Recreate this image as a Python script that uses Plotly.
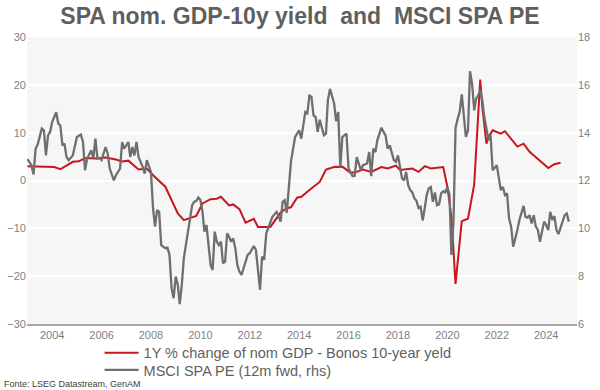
import plotly.graph_objects as go

# ---------------- data ----------------
red_dates = ["2003-01","2004-02","2004-05","2004-11","2005-02","2005-05","2005-10","2006-03","2006-08","2006-11",
             "2007-02","2007-07","2007-11","2008-02","2008-08","2009-02","2009-05","2009-11","2010-02","2010-06",
             "2010-09","2010-11","2011-03","2011-05","2011-08","2011-11","2012-03","2012-05","2012-11","2013-04",
             "2013-07","2013-09","2013-12","2014-02","2014-06","2014-11","2015-02","2015-06","2015-10","2016-02",
             "2016-05","2016-08","2016-12","2017-05","2017-08","2017-12","2018-02","2018-08","2018-11","2019-02",
             "2019-05","2019-09","2019-11","2020-01","2020-03","2020-05","2020-08","2020-11","2021-02","2021-05",
             "2021-06","2021-08","2021-09","2021-11","2022-03","2022-05","2022-11","2023-02","2023-05","2024-02",
             "2024-05","2024-08"]
red_gdp_minus_yield = [3.0,2.8,2.35,3.9,4.0,4.7,4.6,4.8,4.4,4.0,
                       4.15,2.3,2.5,1.1,-1.3,-6.9,-8.3,-7.4,-4.8,-3.9,
                       -3.8,-3.4,-5.2,-5.0,-6.0,-8.8,-8.0,-9.7,-9.7,-6.7,
                       -5.8,-5.6,-3.6,-3.4,-2.0,-0.3,2.3,2.8,2.9,1.6,
                       1.8,2.3,1.8,2.8,2.5,3.1,2.2,2.5,1.8,3.0,
                       2.5,2.8,2.8,-1.3,-7.6,-21.6,-8.5,-8.0,-0.8,21.1,
                       15.3,7.7,9.1,10.5,9.8,10.3,7.1,7.7,6.0,2.6,
                       3.4,3.7]

grey_dates = ["2003-01","2003-03","2003-04","2003-05","2003-06","2003-08","2003-09","2003-10","2003-11","2003-12",
              "2004-01","2004-02","2004-03","2004-04","2004-05","2004-06","2004-07","2004-08","2004-09","2004-11",
              "2004-12","2005-01","2005-03","2005-04","2005-05","2005-06","2005-08","2005-09","2005-10","2005-11",
              "2005-12","2006-01","2006-03","2006-04","2006-05","2006-07","2006-08","2006-10","2006-11","2006-12",
              "2007-02","2007-03","2007-04","2007-05","2007-06","2007-07","2007-09","2007-10","2007-11","2007-12",
              "2008-01","2008-02","2008-03","2008-04","2008-05","2008-06","2008-08","2008-09","2008-10","2008-11",
              "2008-12","2009-01","2009-02","2009-03","2009-04","2009-05","2009-07","2009-08","2009-09","2009-10",
              "2009-11","2009-12","2010-01","2010-02","2010-03","2010-04","2010-05","2010-06","2010-07","2010-08",
              "2010-09","2010-10","2010-11","2010-12","2011-01","2011-02","2011-03","2011-04","2011-05","2011-06",
              "2011-07","2011-08","2011-09","2011-11","2011-12","2012-01","2012-03","2012-04","2012-06","2012-07",
              "2012-08","2012-09","2012-11","2012-12","2013-02","2013-04","2013-05","2013-06","2013-07","2013-08",
              "2013-09","2013-11","2013-12","2014-01","2014-02","2014-04","2014-05","2014-06","2014-07","2014-08",
              "2014-09","2014-10","2014-11","2015-01","2015-02","2015-03","2015-04","2015-06","2015-07","2015-08",
              "2015-09","2015-10","2015-12","2016-01","2016-03","2016-04","2016-05","2016-06","2016-07","2016-08",
              "2016-10","2016-11","2016-12","2017-01","2017-02","2017-03","2017-05","2017-06","2017-07","2017-08",
              "2017-09","2017-11","2017-12","2018-01","2018-02","2018-03","2018-04","2018-05","2018-06","2018-07",
              "2018-08","2018-09","2018-10","2018-11","2018-12","2019-01","2019-02","2019-03","2019-04","2019-05",
              "2019-06","2019-07","2019-08","2019-09","2019-10","2019-11","2019-12","2020-01","2020-02","2020-03",
              "2020-04","2020-05","2020-06","2020-07","2020-08","2020-09","2020-10","2020-11","2020-12","2021-01",
              "2021-02","2021-03","2021-04","2021-05","2021-06","2021-07","2021-08","2021-09","2021-10","2021-11",
              "2022-01","2022-03","2022-04","2022-05","2022-06","2022-07","2022-08","2022-09","2022-11","2022-12",
              "2023-02","2023-03","2023-04","2023-05","2023-06","2023-07","2023-08","2023-09","2023-10","2023-12",
              "2024-01","2024-02","2024-03","2024-04","2024-05","2024-06","2024-07","2024-09","2024-10","2024-11",
              "2024-12"]
grey_pe = [12.89,12.64,12.25,13.33,13.5,14.17,14.1,13.05,13.89,14.03,
           14.44,14.65,14.86,14.38,14.3,13.47,13.54,12.98,12.85,13.05,
           13.47,13.82,13.92,13.61,12.43,12.92,13.26,12.92,13.75,12.92,
           12.94,12.85,13.4,13.13,12.5,12.01,12.22,12.5,13.61,13.33,
           13.61,12.98,13.4,13.05,13.61,12.98,12.57,12.29,12.85,12.57,
           12.36,10.83,10.07,10.76,10.69,9.3,9.17,9.19,8.89,7.5,
           7.08,7.98,7.64,6.83,7.64,8.75,9.86,10.44,10.97,11.11,
           11.14,11.29,11.18,10.69,9.86,10.14,9.38,8.47,8.26,9.86,
           9.44,9.3,9.44,8.54,8.61,9.79,9.65,9.44,9.58,9.17,
           8.47,8.19,8.05,8.68,8.89,8.96,9.26,9.1,7.43,8.82,
           8.68,9.79,10.2,10.48,10.69,10.28,11.11,11.18,10.65,11.88,
           12.78,13.82,13.96,14.1,13.75,14.86,14.8,15.55,15.5,14.72,
           14.65,14.03,14.54,13.89,13.96,15.35,15.83,15.23,14.48,14.86,
           12.54,13.82,13.96,12.5,12.18,12.2,12.98,12.64,12.43,12.64,
           12.71,13.19,12.18,13.33,13.19,13.68,14.21,14.03,13.89,13.33,
           13.47,12.85,12.78,13.05,12.5,12.1,12.0,12.36,11.8,11.6,
           11.5,11.25,11.15,10.85,10.9,10.33,10.85,11.39,11.67,11.73,
           11.11,11.5,10.97,11.0,11.46,11.55,11.5,11.73,11.42,8.89,
           10.3,14.2,14.58,14.86,15.6,14.58,13.82,14.1,16.57,16.04,
           14.93,15.42,15.55,15.79,15.35,14.65,14.1,13.68,13.89,12.43,
           12.64,11.6,11.73,11.39,11.46,10.42,10.07,9.23,9.93,10.35,
           10.94,10.48,10.45,10.55,10.2,10.55,10.07,9.93,9.44,10.28,
           10.14,9.93,10.69,10.35,10.51,9.93,9.76,10.28,10.55,10.62,
           10.28]

left_ticks = [-30, -20, -10, 0, 10, 20, 30]
right_ticks = [6, 8, 10, 12, 14, 16, 18]
year_ticks = ["2004", "2006", "2008", "2010", "2012", "2014", "2016", "2018", "2020", "2022", "2024"]

title_text = "SPA nom. GDP-10y yield \u00a0and \u00a0MSCI SPA PE"
red_name = "1Y % change of nom GDP - Bonos 10-year yeld"
grey_name = "MSCI SPA PE (12m fwd, rhs)"
source_text = "Fonte: LSEG Datastream, GenAM"

FONT = "Arial, 'Liberation Sans', sans-serif"
RED = "#c8161e"
GREY = "#6f6f6f"
TICKC = "#7f7f7f"

fig = go.Figure()
fig.add_trace(go.Scatter(x=red_dates, y=red_gdp_minus_yield, name=red_name, mode="lines",
                         line=dict(color=RED, width=2), yaxis="y", legend="legend"))
fig.add_trace(go.Scatter(x=grey_dates, y=grey_pe, name=grey_name, mode="lines",
                         line=dict(color=GREY, width=2.3), yaxis="y2", legend="legend2"))

leg_common = dict(orientation="v", x=0.132, xanchor="left", yanchor="middle",
                  font=dict(family=FONT, size=14.5, color="#5f5f5f"), bgcolor="rgba(0,0,0,0)",
                  itemwidth=34)

fig.update_layout(
    width=600, height=390,
    margin=dict(l=27, r=23, t=37, b=66, autoexpand=False),
    paper_bgcolor="white", plot_bgcolor="#f6f6f6",
    font=dict(family=FONT, color=TICKC, size=11),
    title=dict(text="<b>" + title_text + "</b>", x=0.5, xanchor="center", y=0.958, yanchor="middle",
               font=dict(family=FONT, size=23, color="#5f5f5f")),
    xaxis=dict(type="date", range=["2002-12-25", "2025-04-01"], automargin=False,
               tickvals=[y + "-01-01" for y in year_ticks], ticktext=year_ticks,
               showgrid=False, zeroline=False, showline=True, linecolor="#a6a6a6", linewidth=1.5,
               ticks="", tickfont=dict(size=11, color=TICKC)),
    yaxis=dict(range=[-30, 30], tickvals=left_ticks, showgrid=True, gridcolor="white", gridwidth=1.5,
               automargin=False, zeroline=False, showline=False, ticks="",
               tickfont=dict(size=11, color=TICKC)),
    yaxis2=dict(range=[6, 18], tickvals=right_ticks, overlaying="y", side="right", showgrid=False,
                automargin=False, zeroline=False, showline=False, ticks="",
                tickfont=dict(size=11, color=TICKC)),
    legend=dict(y=-0.1, **leg_common),
    legend2=dict(y=-0.16, **leg_common),
    showlegend=True,
)
fig.add_annotation(text=source_text, xref="paper", yref="paper", x=-0.045, y=-0.21,
                   xanchor="left", yanchor="middle", showarrow=False,
                   font=dict(family=FONT, size=9, color="#404040"))

fig.write_html("out.html", config={"displayModeBar": False},
               post_script="document.body.style.margin='0';document.body.style.padding='0';"
                           "document.documentElement.style.overflow='hidden';")
